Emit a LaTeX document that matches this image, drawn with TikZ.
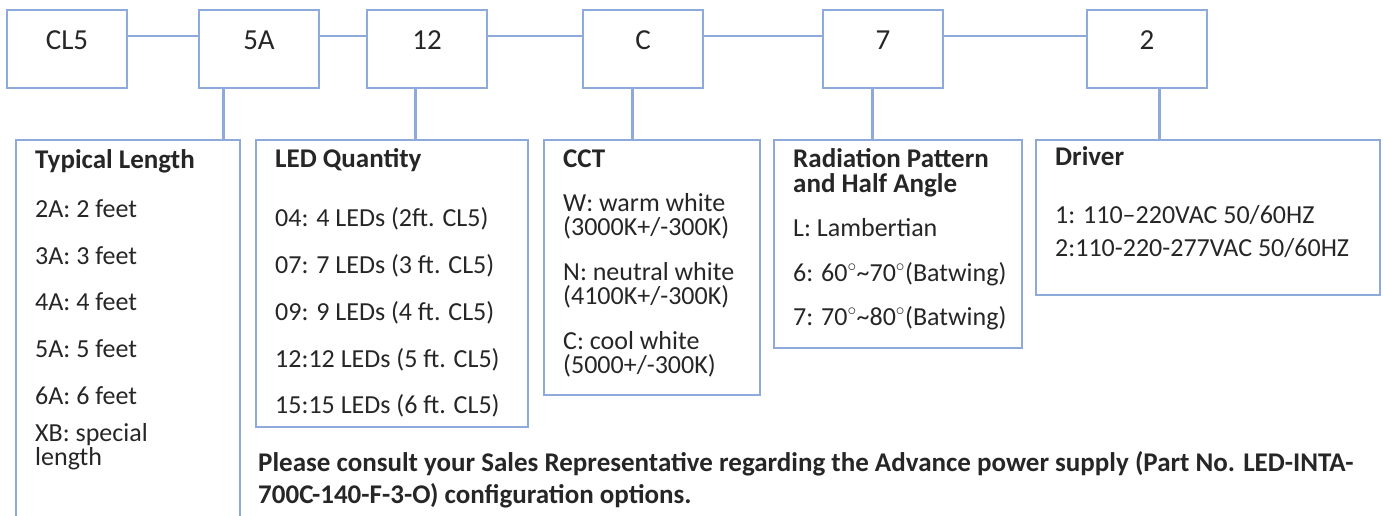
\documentclass[tikz,border=0pt]{standalone}
\usepackage{fontspec}
\setmainfont{Carlito}
\definecolor{frame}{HTML}{8EAADB}
\definecolor{ink}{HTML}{262626}
\tikzset{
  code/.style={draw=frame,line width=2pt,minimum width=120pt,minimum height=78pt,inner sep=0pt,text=ink,font=\fontsize{29}{29}\selectfont,text height=19pt,text depth=17pt},
  panel/.style={draw=frame,line width=2pt,anchor=north west,inner sep=0pt},
  link/.style={draw=frame,line width=2.2pt},
  stem/.style={draw=frame,line width=3pt},
  entry/.style={anchor=base west,inner sep=0pt,text=ink,font=\fontsize{26}{26}\selectfont},
  pair/.style={entry,align=left,font=\fontsize{26}{24}\selectfont},
  head/.style={entry,font=\fontsize{27}{27}\selectfont\bfseries},
  note/.style={entry,font=\fontsize{27}{27}\selectfont\bfseries}
}
\begin{document}
\begin{tikzpicture}[x=1pt,y=-1pt]
\useasboundingbox (0,0) rectangle (1383,516);
\node[code] (cl5) at (67,49) {CL5};
\node[code] (len) at (259,49) {5A};
\node[code] (qty) at (427,49) {12};
\node[code] (cct) at (643,49) {C};
\node[code] (rad) at (883,49) {7};
\node[code] (drv) at (1147,49) {2};
\draw[link] ([yshift=13pt]cl5.east) -- ([yshift=13pt]len.west);
\draw[link] ([yshift=13pt]len.east) -- ([yshift=13pt]qty.west);
\draw[link] ([yshift=13pt]qty.east) -- ([yshift=13pt]cct.west);
\draw[link] ([yshift=13pt]cct.east) -- ([yshift=13pt]rad.west);
\draw[link] ([yshift=13pt]rad.east) -- ([yshift=13pt]drv.west);

\node[panel,minimum width=224pt,minimum height=400pt] (lenbox) at (15,139) {};
\node[panel,minimum width=272pt,minimum height=287pt] (qtybox) at (255,139) {};
\node[panel,minimum width=216pt,minimum height=255pt] (cctbox) at (543,139) {};
\node[panel,minimum width=248pt,minimum height=208pt] (radbox) at (773,139) {};
\node[panel,minimum width=344pt,minimum height=155pt] (drvbox) at (1035,139) {};
\draw[stem] ([xshift=-36pt]len.south) -- ([xshift=-36pt]len.south |- lenbox.north);
\draw[stem] ([xshift=-12pt]qty.south) -- ([xshift=-12pt]qty.south |- qtybox.north);
\draw[stem] ([xshift=-11pt]cct.south) -- ([xshift=-11pt]cct.south |- cctbox.north);
\draw[stem] ([xshift=-11pt]rad.south) -- ([xshift=-11pt]rad.south |- radbox.north);
\draw[stem] ([xshift=12pt]drv.south) -- ([xshift=12pt]drv.south |- drvbox.north);

\node[head] (lenhd) at (35,168) {Typical Length};
\foreach \y/\t [count=\i] in {217/2A: 2 feet,264/3A: 3 feet,310/4A: 4 feet,357/5A: 5 feet,404/6A: 6 feet}
  \node[entry] (len\i) at (35,\y) {\t};
\node[pair] (len6) at (35,465) {XB: special\\length};

\node[head] (qtyhd) at (275,167) {LED Quantity};
\foreach \y/\t [count=\i] in {226/04: 4 LEDs (2ft. CL5),273/07: 7 LEDs (3 ft. CL5),320/09: 9 LEDs (4 ft. CL5),367/12:12 LEDs (5 ft. CL5),413/15:15 LEDs (6 ft. CL5)}
  \node[entry] (qty\i) at (275,\y) {\t};

\node[head] (ccthd) at (563,167) {CCT};
\node[pair] (cct1) at (563,235) {W: warm white\\(3000K+/-300K)};
\node[pair] (cct2) at (563,304) {N: neutral white\\(4100K+/-300K)};
\node[pair] (cct3) at (563,373) {C: cool white\\(5000+/-300K)};

\node[head,align=left,font=\fontsize{27}{25}\selectfont\bfseries] (radhd) at (793,192) {Radiation Pattern\\and Half Angle};
\node[entry] (rad1) at (793,236) {L: Lambertian};
\node[entry] (rad2) at (793,281) {6: 60$^{\circ}$\textasciitilde70$^{\circ}$(Batwing)};
\node[entry] (rad3) at (793,325) {7: 70$^{\circ}$\textasciitilde80$^{\circ}$(Batwing)};

\node[head] (drvhd) at (1055,165) {Driver};
\node[entry] (drv1) at (1055,223) {1: 110–220VAC 50/60HZ};
\node[entry] (drv2) at (1055,256) {2:110-220-277VAC 50/60HZ};

\node[note] (note1) at (258,471) {Please consult your Sales Representative regarding the Advance power supply (Part No. LED-INTA-};
\node[note] (note2) at (258,503) {700C-140-F-3-O) configuration options.};
\end{tikzpicture}
\end{document}
